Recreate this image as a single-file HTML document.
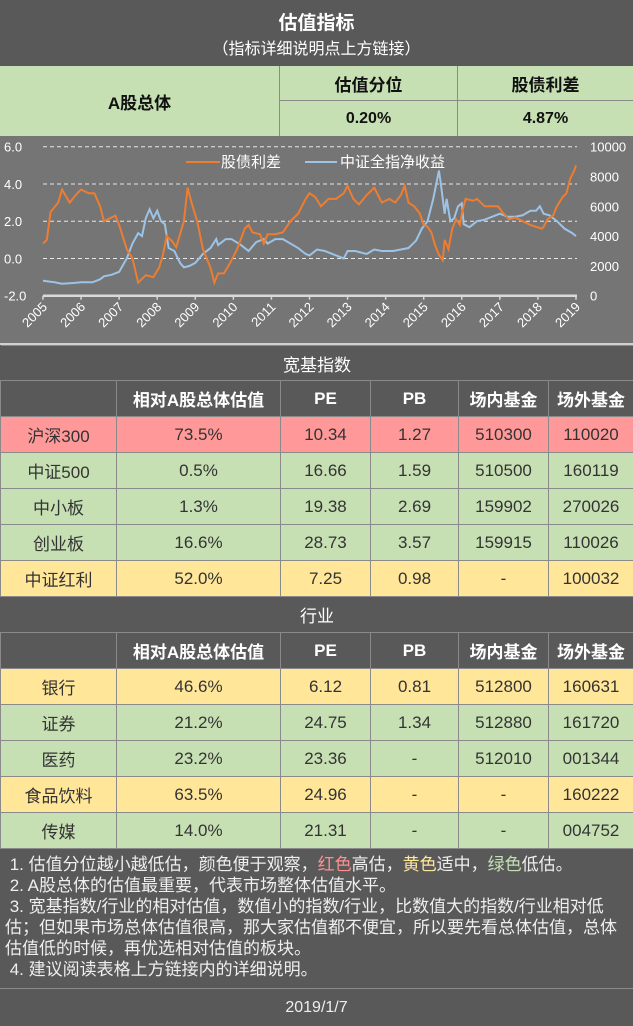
<!DOCTYPE html>
<html><head><meta charset="utf-8">
<style>
*{margin:0;padding:0;box-sizing:border-box}
body{width:633px;height:1026px;background:#595959;font-family:"Liberation Sans","Noto Sans CJK SC",sans-serif;position:relative;overflow:hidden}
.a{position:absolute;display:flex;align-items:center;justify-content:center;text-align:center}
.dk{background:#595959;color:#fff}
.g{background:#c6e0b4;color:#333}
.r{background:#ff9999;color:#333}
.y{background:#ffe699;color:#333}
table{position:absolute;left:0;border-collapse:collapse;table-layout:fixed;width:633px}
td{border:1px solid #8a8a8a;text-align:center;font-size:17px;height:36px;padding:0;color:#333}
td.h{background:#595959;color:#fff;font-weight:bold}
td.sec{background:#595959;color:#fff;font-size:17px;border-left:none;border-right:none}
.notes{position:absolute;left:0;top:851px;width:633px;height:138px;color:#eee;font-size:17px;line-height:21px;padding:3px 4px 0 5px}
</style></head><body>
<div class="a dk" style="left:0;top:0;width:633px;height:34px;font-size:19px;font-weight:bold;padding-top:8px">估值指标</div>
<div class="a dk" style="left:0;top:34px;width:633px;height:26px;font-size:16px">（指标详细说明点上方链接）</div>
<div class="a g" style="left:0;top:66px;width:280px;height:70px;font-size:17px;font-weight:bold;border-right:1px solid #8a8a8a;color:#111">A股总体</div>
<div class="a g" style="left:280px;top:66px;width:178px;height:35px;font-size:17px;font-weight:bold;border-right:1px solid #8a8a8a;border-bottom:1px solid #8a8a8a;color:#111">估值分位</div>
<div class="a g" style="left:458px;top:66px;width:175px;height:35px;font-size:17px;font-weight:bold;border-bottom:1px solid #8a8a8a;color:#111">股债利差</div>
<div class="a g" style="left:280px;top:101px;width:178px;height:35px;font-size:16px;font-weight:bold;border-right:1px solid #8a8a8a;color:#111">0.20%</div>
<div class="a g" style="left:458px;top:101px;width:175px;height:35px;font-size:16px;font-weight:bold;color:#111">4.87%</div>

<svg id="chart" width="633" height="208" style="position:absolute;left:0;top:136px;background:#757575" xmlns="http://www.w3.org/2000/svg"></svg>
<div style="position:absolute;left:0;top:343px;width:633px;height:2px;background:#d0d0d0"></div>

<table style="top:345px">
<colgroup><col style="width:116px"><col style="width:164px"><col style="width:90px"><col style="width:88px"><col style="width:90px"><col style="width:85px"></colgroup>
<tr><td class="sec" colspan="6" style="height:35px">宽基指数</td></tr>
<tr><td class="h"></td><td class="h">相对A股总体估值</td><td class="h">PE</td><td class="h">PB</td><td class="h">场内基金</td><td class="h">场外基金</td></tr>
<tr class="r"><td>沪深300</td><td>73.5%</td><td>10.34</td><td>1.27</td><td>510300</td><td>110020</td></tr>
<tr class="g"><td>中证500</td><td>0.5%</td><td>16.66</td><td>1.59</td><td>510500</td><td>160119</td></tr>
<tr class="g"><td>中小板</td><td>1.3%</td><td>19.38</td><td>2.69</td><td>159902</td><td>270026</td></tr>
<tr class="g"><td>创业板</td><td>16.6%</td><td>28.73</td><td>3.57</td><td>159915</td><td>110026</td></tr>
<tr class="y"><td>中证红利</td><td>52.0%</td><td>7.25</td><td>0.98</td><td>-</td><td>100032</td></tr>
</table>

<table style="top:596px">
<colgroup><col style="width:116px"><col style="width:164px"><col style="width:90px"><col style="width:88px"><col style="width:90px"><col style="width:85px"></colgroup>
<tr><td class="sec" colspan="6" style="height:36px">行业</td></tr>
<tr><td class="h"></td><td class="h">相对A股总体估值</td><td class="h">PE</td><td class="h">PB</td><td class="h">场内基金</td><td class="h">场外基金</td></tr>
<tr class="y"><td>银行</td><td>46.6%</td><td>6.12</td><td>0.81</td><td>512800</td><td>160631</td></tr>
<tr class="g"><td>证券</td><td>21.2%</td><td>24.75</td><td>1.34</td><td>512880</td><td>161720</td></tr>
<tr class="g"><td>医药</td><td>23.2%</td><td>23.36</td><td>-</td><td>512010</td><td>001344</td></tr>
<tr class="y"><td>食品饮料</td><td>63.5%</td><td>24.96</td><td>-</td><td>-</td><td>160222</td></tr>
<tr class="g"><td>传媒</td><td>14.0%</td><td>21.31</td><td>-</td><td>-</td><td>004752</td></tr>
</table>

<div class="notes">
<div>&nbsp;1. 估值分位越小越低估，颜色便于观察，<span style="color:#ff8f8f">红色</span>高估，<span style="color:#ffe699">黄色</span>适中，<span style="color:#c6e0b4">绿色</span>低估。</div>
<div>&nbsp;2. A股总体的估值最重要，代表市场整体估值水平。</div>
<div>&nbsp;3. 宽基指数/行业的相对估值，数值小的指数/行业，比数值大的指数/行业相对低估；但如果市场总体估值很高，那大家估值都不便宜，所以要先看总体估值，总体估值低的时候，再优选相对估值的板块。</div>
<div>&nbsp;4. 建议阅读表格上方链接内的详细说明。</div>
</div>
<div style="position:absolute;left:0;top:988px;width:633px;height:1px;background:#8a8a8a"></div>
<div class="a dk" style="left:0;top:989px;width:633px;height:37px;font-size:16px;color:#eee">2019/1/7</div>

<script>
const years = [2005,2006,2007,2008,2009,2010,2011,2012,2013,2014,2015,2016,2017,2018,2019];
const leftTicks = [-2,0,2,4,6];
const rightTicks = [0,2000,4000,6000,8000,10000];
const spreadT = [2005.0,2005.1,2005.2,2005.4,2005.5,2005.7,2005.9,2006.0,2006.2,2006.35,2006.5,2006.6,2006.8,2006.9,2007.0,2007.2,2007.35,2007.5,2007.7,2007.9,2008.05,2008.15,2008.25,2008.4,2008.5,2008.7,2008.8,2008.9,2009.05,2009.2,2009.4,2009.5,2009.6,2009.75,2009.9,2010.1,2010.3,2010.4,2010.5,2010.7,2010.8,2010.9,2011.1,2011.3,2011.5,2011.7,2011.9,2012.0,2012.15,2012.3,2012.5,2012.7,2012.9,2013.0,2013.15,2013.3,2013.5,2013.7,2013.8,2013.9,2014.1,2014.25,2014.4,2014.5,2014.6,2014.75,2014.9,2015.0,2015.1,2015.2,2015.3,2015.4,2015.5,2015.55,2015.65,2015.75,2015.85,2015.95,2016.0,2016.1,2016.3,2016.4,2016.6,2016.8,2016.95,2017.1,2017.25,2017.4,2017.6,2017.8,2017.95,2018.1,2018.15,2018.25,2018.4,2018.5,2018.65,2018.75,2018.85,2018.95,2019.0];
const spreadV = [0.8,1.0,2.5,3.0,3.7,3.0,3.5,3.7,3.5,3.5,2.8,2.0,2.2,2.3,1.8,0.5,0.0,-1.3,-0.9,-1.0,-0.5,0.2,1.2,0.9,0.6,2.0,3.8,3.0,2.0,0.5,-0.5,-1.3,-0.8,-0.8,-0.3,0.5,1.6,1.8,1.4,1.3,0.8,1.3,1.3,1.4,2.0,2.4,3.2,3.5,3.3,2.8,3.2,3.2,3.5,3.9,3.2,2.9,3.4,3.8,3.4,3.0,3.2,3.0,3.4,3.9,3.0,2.8,2.4,1.8,1.7,1.4,0.7,0.2,-0.1,1.0,0.5,1.6,2.1,1.8,2.4,3.2,3.1,3.2,2.8,2.8,2.8,2.4,2.1,2.2,2.0,1.8,1.7,1.6,1.7,2.1,2.3,2.8,3.3,3.5,4.3,4.7,5.0];
const csiT = [2005.0,2005.3,2005.5,2005.8,2006.0,2006.3,2006.5,2006.6,2006.8,2007.0,2007.2,2007.35,2007.5,2007.6,2007.7,2007.8,2007.9,2008.0,2008.1,2008.2,2008.3,2008.45,2008.6,2008.7,2008.85,2009.0,2009.2,2009.4,2009.55,2009.6,2009.8,2009.95,2010.2,2010.4,2010.6,2010.8,2010.9,2011.1,2011.3,2011.5,2011.7,2011.9,2012.0,2012.2,2012.4,2012.6,2012.8,2012.9,2013.0,2013.2,2013.5,2013.7,2013.9,2014.2,2014.4,2014.6,2014.8,2014.95,2015.1,2015.25,2015.4,2015.45,2015.55,2015.6,2015.7,2015.8,2015.9,2016.0,2016.05,2016.2,2016.4,2016.6,2016.8,2017.0,2017.2,2017.4,2017.6,2017.8,2017.95,2018.05,2018.15,2018.3,2018.5,2018.7,2018.9,2019.0];
const csiV = [1000,900,800,850,900,900,1100,1300,1400,1600,2500,3500,4200,4000,5200,5800,5200,5700,5000,4800,3200,3000,2200,1900,2000,2200,2800,3200,3800,3400,3800,3800,3400,3000,3600,3800,3500,3800,3800,3500,3200,2800,2700,3100,3000,2800,2600,2500,3000,3000,2800,3100,3000,3000,3100,3200,3700,4500,5000,6500,8400,7500,5500,6500,5000,5200,6000,6200,4800,4600,5000,5100,5300,5500,5300,5300,5400,5700,5700,6000,5500,5400,5000,4500,4200,4000];

const svg = document.getElementById('chart');
const NS = 'http://www.w3.org/2000/svg';
const OY = 136;
const x = t => 43 + (t - 2005) * (576 - 43) / 14;
const yL = v => 146.7 - OY + (6 - v) * (295.7 - 146.7) / 8;
const yR = v => 146.7 - OY + (10000 - v) * (295.7 - 146.7) / 10000;
function mk(tag, attrs){const e=document.createElementNS(NS,tag);for(const k in attrs)e.setAttribute(k,attrs[k]);svg.appendChild(e);return e;}

leftTicks.forEach(v=>{
  if(v>-2){const l=mk('line',{x1:43,x2:577,y1:yL(v),y2:yL(v),stroke:'#e8e8e8','stroke-dasharray':'4,3','stroke-width':1});
  
  }
  const t=mk('text',{x:4,y:yL(v)+5,fill:'#fff','font-size':13});
  t.textContent=v.toFixed(1);
  
  
});
rightTicks.forEach(v=>{
  const t=mk('text',{x:590,y:yR(v)+5,fill:'#fff','font-size':13});
  t.textContent=v;
  
  
});
const ax=mk('line',{x1:43,x2:577,y1:yL(-2),y2:yL(-2),stroke:'#d9d9d9','stroke-width':2.5});


years.forEach(yr=>{
  const tk=mk('line',{x1:x(yr),x2:x(yr),y1:yL(-2),y2:yL(-2)+4,stroke:'#d9d9d9','stroke-width':1.5});
  
  
  const t=mk('text',{x:x(yr)+5,y:yL(-2)+12,fill:'#fff','font-size':13,'text-anchor':'end',transform:`rotate(-45 ${x(yr)+5} ${yL(-2)+12})`});
  t.textContent=yr;
  
  
});
const pl=mk('polyline',{points:csiT.map((t,i)=>x(t)+','+yR(csiV[i])).join(' '),fill:'none',stroke:'#9dc3e6','stroke-width':2});


const po=mk('polyline',{points:spreadT.map((t,i)=>x(t)+','+yL(spreadV[i])).join(' '),fill:'none',stroke:'#ed7d31','stroke-width':2});


const l1=mk('line',{x1:186,x2:220,y1:26,y2:26,stroke:'#ed7d31','stroke-width':2});


const t1=mk('text',{x:221,y:31,fill:'#fff','font-size':15});
t1.textContent='股债利差';


const l2=mk('line',{x1:305,x2:337,y1:26,y2:26,stroke:'#9dc3e6','stroke-width':2});


const t2=mk('text',{x:340,y:31,fill:'#fff','font-size':15});
t2.textContent='中证全指净收益';


</script>
</body></html>
